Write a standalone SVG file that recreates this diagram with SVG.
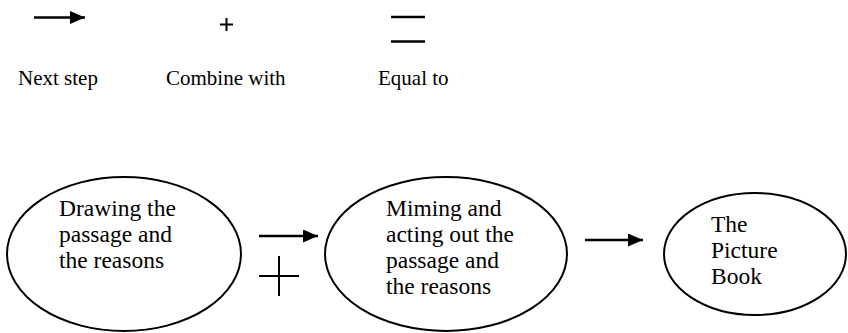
<svg xmlns="http://www.w3.org/2000/svg" width="848" height="333" viewBox="0 0 848 333">
<defs>
<style>
.t{font-family:"Liberation Serif","Times New Roman",serif;fill:#000}
.lg{font-size:21px}
.nd{font-size:23.5px}
.e{fill:none;stroke:#000;stroke-width:2}
.ln{stroke:#000;stroke-width:2.5;fill:none}
.pl{stroke:#000;stroke-width:2;fill:none}
</style>
<marker id="ah" markerWidth="16" markerHeight="14" refX="15" refY="6.5" orient="auto" markerUnits="userSpaceOnUse">
<path d="M0,0 L15,6.5 L0,13 Z" fill="#000"/>
</marker>
</defs>
<rect width="848" height="333" fill="#fff"/>
<g id="legend">
<line class="ln" x1="34" y1="17.5" x2="85" y2="17.5" marker-end="url(#ah)"/>
<path class="pl" d="M220,24.5 H233 M226.5,18 V31" stroke-width="1.6"/>
<line class="ln" x1="391" y1="17" x2="425" y2="17" stroke-width="2"/>
<line class="ln" x1="391" y1="41.5" x2="425" y2="41.5" stroke-width="2"/>
<text class="t lg" x="18" y="85">Next step</text>
<text class="t lg" x="166" y="85">Combine with</text>
<text class="t lg" x="378" y="85">Equal to</text>
</g>
<g id="node1">
<ellipse class="e" cx="124" cy="254" rx="117" ry="77"/>
<text class="t nd" x="59" y="216">Drawing the</text>
<text class="t nd" x="59" y="242">passage and</text>
<text class="t nd" x="59" y="268">the reasons</text>
</g>
<g id="node2">
<ellipse class="e" cx="446" cy="254" rx="121" ry="77"/>
<text class="t nd" x="386" y="216">Miming and</text>
<text class="t nd" x="386" y="242">acting out the</text>
<text class="t nd" x="386" y="268">passage and</text>
<text class="t nd" x="386" y="294">the reasons</text>
</g>
<g id="node3">
<ellipse class="e" cx="755" cy="254" rx="91" ry="61"/>
<text class="t nd" x="711" y="232">The</text>
<text class="t nd" x="711" y="258">Picture</text>
<text class="t nd" x="711" y="284">Book</text>
</g>
<g id="connectors">
<line class="ln" x1="259" y1="236" x2="318" y2="236" marker-end="url(#ah)"/>
<path class="pl" d="M259,276 H299 M279,256 V296"/>
<line class="ln" x1="585" y1="240" x2="643" y2="240" marker-end="url(#ah)"/>
</g>
</svg>
